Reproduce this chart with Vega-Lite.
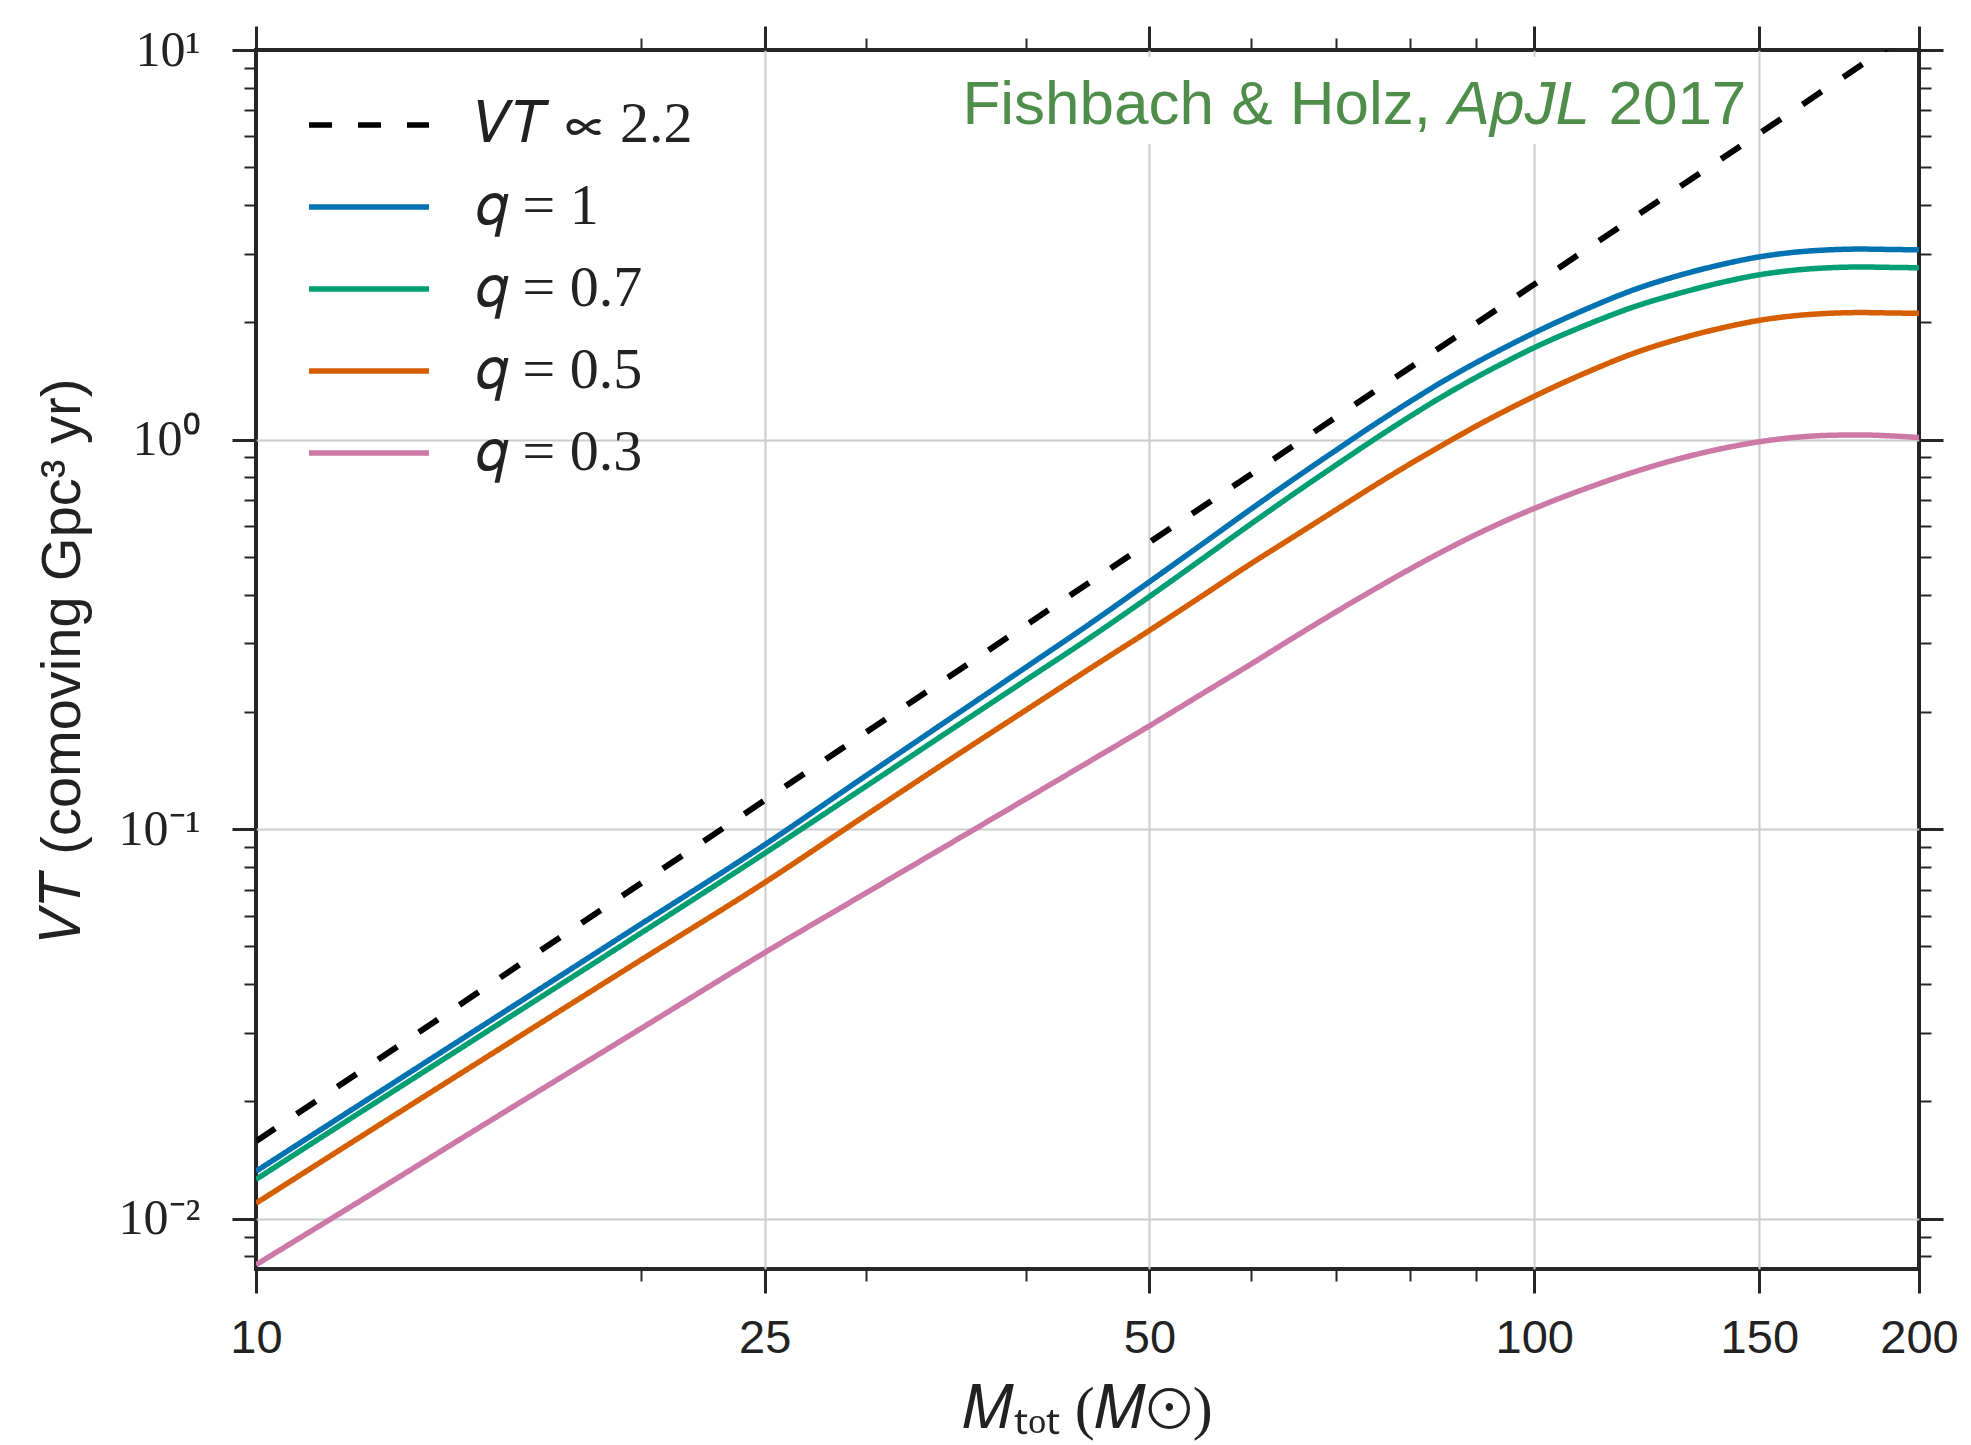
{
  "$schema": "https://vega.github.io/schema/vega-lite/v6.json",
  "width": 1663,
  "height": 1219,
  "autosize": {"type": "none"},
  "padding": {"left": 256, "top": 50, "right": 52, "bottom": 176},
  "background": "white",
  "config": {
    "view": {"stroke": "#262626", "strokeWidth": 4, "fill": "white"},
    "axis": {"domain": false, "labelOverlap": false, "labelFlush": false, "tickColor": "#262626", "labelColor": "#222222", "titleColor": "#222222", "titleFontWeight": "normal", "gridColor": "#cccccc", "gridWidth": 2}
  },
  "datasets": {
    "curves": [
      {"series": "d", "M": 10, "VT": 0.0158},
      {"series": "d", "M": 200, "VT": 11.5},
      {"series": "q1", "M": 10, "VT": 0.01324}, {"series": "q1", "M": 12, "VT": 0.01945}, {"series": "q1", "M": 15, "VT": 0.03112}, {"series": "q1", "M": 20, "VT": 0.05702}, {"series": "q1", "M": 25, "VT": 0.0912}, {"series": "q1", "M": 30, "VT": 0.1371}, {"series": "q1", "M": 35, "VT": 0.1932}, {"series": "q1", "M": 40, "VT": 0.26}, {"series": "q1", "M": 45, "VT": 0.3381}, {"series": "q1", "M": 50, "VT": 0.4315}, {"series": "q1", "M": 55, "VT": 0.5395}, {"series": "q1", "M": 60, "VT": 0.6622}, {"series": "q1", "M": 65, "VT": 0.7962}, {"series": "q1", "M": 70, "VT": 0.9397}, {"series": "q1", "M": 75, "VT": 1.094}, {"series": "q1", "M": 80, "VT": 1.2531}, {"series": "q1", "M": 85, "VT": 1.4158}, {"series": "q1", "M": 90, "VT": 1.574}, {"series": "q1", "M": 95, "VT": 1.7278}, {"series": "q1", "M": 100, "VT": 1.8793}, {"series": "q1", "M": 110, "VT": 2.1677}, {"series": "q1", "M": 120, "VT": 2.4322}, {"series": "q1", "M": 130, "VT": 2.6424}, {"series": "q1", "M": 140, "VT": 2.8119}, {"series": "q1", "M": 150, "VT": 2.9444}, {"series": "q1", "M": 160, "VT": 3.0269}, {"series": "q1", "M": 170, "VT": 3.069}, {"series": "q1", "M": 180, "VT": 3.0832}, {"series": "q1", "M": 190, "VT": 3.0761}, {"series": "q1", "M": 200, "VT": 3.069},
      {"series": "q07", "M": 10, "VT": 0.01262}, {"series": "q07", "M": 12, "VT": 0.01854}, {"series": "q07", "M": 15, "VT": 0.02958}, {"series": "q07", "M": 20, "VT": 0.05408}, {"series": "q07", "M": 25, "VT": 0.0867}, {"series": "q07", "M": 30, "VT": 0.1288}, {"series": "q07", "M": 35, "VT": 0.1803}, {"series": "q07", "M": 40, "VT": 0.241}, {"series": "q07", "M": 45, "VT": 0.3112}, {"series": "q07", "M": 50, "VT": 0.3954}, {"series": "q07", "M": 55, "VT": 0.4943}, {"series": "q07", "M": 60, "VT": 0.6067}, {"series": "q07", "M": 65, "VT": 0.7295}, {"series": "q07", "M": 70, "VT": 0.861}, {"series": "q07", "M": 75, "VT": 1.002}, {"series": "q07", "M": 80, "VT": 1.1482}, {"series": "q07", "M": 85, "VT": 1.2972}, {"series": "q07", "M": 90, "VT": 1.4421}, {"series": "q07", "M": 95, "VT": 1.5831}, {"series": "q07", "M": 100, "VT": 1.7219}, {"series": "q07", "M": 110, "VT": 1.9724}, {"series": "q07", "M": 120, "VT": 2.1979}, {"series": "q07", "M": 130, "VT": 2.3768}, {"series": "q07", "M": 140, "VT": 2.5293}, {"series": "q07", "M": 150, "VT": 2.6485}, {"series": "q07", "M": 160, "VT": 2.7227}, {"series": "q07", "M": 170, "VT": 2.7606}, {"series": "q07", "M": 180, "VT": 2.7733}, {"series": "q07", "M": 190, "VT": 2.7669}, {"series": "q07", "M": 200, "VT": 2.7606},
      {"series": "q05", "M": 10, "VT": 0.01096}, {"series": "q05", "M": 12, "VT": 0.01603}, {"series": "q05", "M": 15, "VT": 0.02547}, {"series": "q05", "M": 20, "VT": 0.04613}, {"series": "q05", "M": 25, "VT": 0.07295}, {"series": "q05", "M": 30, "VT": 0.1086}, {"series": "q05", "M": 35, "VT": 0.1517}, {"series": "q05", "M": 40, "VT": 0.2018}, {"series": "q05", "M": 45, "VT": 0.2594}, {"series": "q05", "M": 50, "VT": 0.3236}, {"series": "q05", "M": 55, "VT": 0.3972}, {"series": "q05", "M": 60, "VT": 0.4797}, {"series": "q05", "M": 65, "VT": 0.5662}, {"series": "q05", "M": 70, "VT": 0.6607}, {"series": "q05", "M": 75, "VT": 0.7621}, {"series": "q05", "M": 80, "VT": 0.867}, {"series": "q05", "M": 85, "VT": 0.9727}, {"series": "q05", "M": 90, "VT": 1.0814}, {"series": "q05", "M": 95, "VT": 1.1872}, {"series": "q05", "M": 100, "VT": 1.2912}, {"series": "q05", "M": 110, "VT": 1.4894}, {"series": "q05", "M": 120, "VT": 1.6711}, {"series": "q05", "M": 130, "VT": 1.8155}, {"series": "q05", "M": 140, "VT": 1.932}, {"series": "q05", "M": 150, "VT": 2.023}, {"series": "q05", "M": 160, "VT": 2.0797}, {"series": "q05", "M": 170, "VT": 2.1086}, {"series": "q05", "M": 180, "VT": 2.1184}, {"series": "q05", "M": 190, "VT": 2.1135}, {"series": "q05", "M": 200, "VT": 2.1086},
      {"series": "q03", "M": 10, "VT": 0.007621}, {"series": "q03", "M": 12, "VT": 0.01099}, {"series": "q03", "M": 15, "VT": 0.01726}, {"series": "q03", "M": 20, "VT": 0.03076}, {"series": "q03", "M": 25, "VT": 0.04819}, {"series": "q03", "M": 30, "VT": 0.06855}, {"series": "q03", "M": 35, "VT": 0.09226}, {"series": "q03", "M": 40, "VT": 0.1194}, {"series": "q03", "M": 45, "VT": 0.15}, {"series": "q03", "M": 50, "VT": 0.1841}, {"series": "q03", "M": 55, "VT": 0.2228}, {"series": "q03", "M": 60, "VT": 0.2649}, {"series": "q03", "M": 65, "VT": 0.3119}, {"series": "q03", "M": 70, "VT": 0.3615}, {"series": "q03", "M": 75, "VT": 0.4131}, {"series": "q03", "M": 80, "VT": 0.4657}, {"series": "q03", "M": 85, "VT": 0.5184}, {"series": "q03", "M": 90, "VT": 0.57}, {"series": "q03", "M": 95, "VT": 0.6192}, {"series": "q03", "M": 100, "VT": 0.6655}, {"series": "q03", "M": 110, "VT": 0.751}, {"series": "q03", "M": 120, "VT": 0.8279}, {"series": "q03", "M": 130, "VT": 0.894}, {"series": "q03", "M": 140, "VT": 0.9471}, {"series": "q03", "M": 150, "VT": 0.9872}, {"series": "q03", "M": 160, "VT": 1.013}, {"series": "q03", "M": 170, "VT": 1.0254}, {"series": "q03", "M": 180, "VT": 1.0278}, {"series": "q03", "M": 190, "VT": 1.0221}, {"series": "q03", "M": 200, "VT": 1.0118}
    ],
    "box": [{"M1": 34.9, "M2": 147.9, "VT1": 5.75, "VT2": 9.61}],
    "note": [
      {"text": "Fishbach & Holz,", "M": 35.7, "VT": 6.47},
      {"text": "ApJL", "M": 85.7, "VT": 6.47},
      {"text": "2017", "M": 114.3, "VT": 6.47}
    ]
  },
  "resolve": {"axis": {"x": "independent", "y": "independent"}},
  "layer": [
    {
      "data": {"name": "box"},
      "mark": {"type": "rect", "fill": "white"},
      "encoding": {
        "x": {"field": "M1", "type": "quantitative", "scale": {"type": "log", "domain": [10, 200], "nice": false}, "axis": null},
        "x2": {"field": "M2"},
        "y": {"field": "VT1", "type": "quantitative", "scale": {"type": "log", "domain": [0.00743, 10], "nice": false}, "axis": null},
        "y2": {"field": "VT2"}
      }
    },
    {
      "data": {"name": "note"},
      "transform": [{"filter": "datum.text != 'ApJL'"}],
      "mark": {"type": "text", "align": "left", "baseline": "alphabetic", "font": "Liberation Sans", "fontSize": 62, "color": "#4f8d4a"},
      "encoding": {
        "x": {"field": "M", "type": "quantitative", "scale": {"type": "log", "domain": [10, 200], "nice": false}, "axis": null},
        "y": {"field": "VT", "type": "quantitative", "scale": {"type": "log", "domain": [0.00743, 10], "nice": false}, "axis": null},
        "text": {"field": "text"}
      }
    },
    {
      "data": {"name": "note"},
      "transform": [{"filter": "datum.text == 'ApJL'"}],
      "mark": {"type": "text", "align": "left", "baseline": "alphabetic", "font": "Liberation Sans", "fontSize": 62, "fontStyle": "italic", "color": "#4f8d4a"},
      "encoding": {
        "x": {"field": "M", "type": "quantitative", "scale": {"type": "log", "domain": [10, 200], "nice": false}, "axis": null},
        "y": {"field": "VT", "type": "quantitative", "scale": {"type": "log", "domain": [0.00743, 10], "nice": false}, "axis": null},
        "text": {"field": "text"}
      }
    },
    {
      "data": {"name": "curves"},
      "transform": [{"filter": "datum.series == 'd'"}],
      "mark": {"type": "line", "clip": true, "strokeWidth": 6},
      "encoding": {
        "x": {"field": "M", "type": "quantitative", "scale": {"type": "log", "domain": [10, 200], "nice": false}, "axis": null},
        "y": {"field": "VT", "type": "quantitative", "scale": {"type": "log", "domain": [0.00743, 10], "nice": false}, "axis": null},
        "color": {"field": "series", "type": "nominal", "scale": {"domain": ["d", "q1", "q07", "q05", "q03"], "range": ["#000000", "#0072B2", "#009E73", "#D55E00", "#CC79A7"]}},
        "strokeDash": {"field": "series", "type": "nominal", "scale": {"domain": ["d", "q1", "q07", "q05", "q03"], "range": [[23, 26], [1, 0], [1, 0], [1, 0], [1, 0]]}}
      }
    },
    {
      "data": {"name": "curves"},
      "transform": [{"filter": "datum.series != 'd'"}],
      "mark": {"type": "line", "clip": true, "strokeWidth": 5.5, "interpolate": "monotone"},
      "encoding": {
        "x": {
          "field": "M", "type": "quantitative",
          "scale": {"type": "log", "domain": [10, 200], "nice": false},
          "axis": {
            "orient": "bottom",
            "values": [10, 20, 25, 30, 40, 50, 60, 70, 80, 90, 100, 150, 200],
            "labelExpr": "indexof([10, 25, 50, 100, 150, 200], datum.value) >= 0 ? datum.label : ''",
            "labelFont": "Liberation Sans", "labelFontSize": 47, "labelPadding": 22,
            "tickSize": {"condition": {"test": "indexof([10, 25, 50, 100, 150, 200], datum.value) >= 0", "value": 24}, "value": 12},
            "tickWidth": {"condition": {"test": "indexof([10, 25, 50, 100, 150, 200], datum.value) >= 0", "value": 3}, "value": 2},
            "grid": true,
            "gridOpacity": {"condition": {"test": "indexof([25, 50, 100, 150], datum.value) >= 0", "value": 1}, "value": 0},
            "title": "𝑀ₜₒₜ (𝑀⊙)", "titleFont": "Liberation Serif", "titleFontSize": 60, "titleY": 158, "titleBaseline": "alphabetic"
          }
        },
        "y": {
          "field": "VT", "type": "quantitative",
          "scale": {"type": "log", "domain": [0.00743, 10], "nice": false},
          "axis": {
            "orient": "left",
            "values": [0.008, 0.009, 0.01, 0.02, 0.03, 0.04, 0.05, 0.06, 0.07, 0.08, 0.09, 0.1, 0.2, 0.3, 0.4, 0.5, 0.6, 0.7, 0.8, 0.9, 1, 2, 3, 4, 5, 6, 7, 8, 9, 10],
            "labelExpr": "datum.value == 10 ? '10¹' : datum.value == 1 ? '10⁰' : datum.value == 0.1 ? '10⁻¹' : datum.value == 0.01 ? '10⁻²' : ''",
            "labelFont": "Liberation Serif", "labelFontSize": 50, "labelPadding": 32,
            "tickSize": {"condition": {"test": "datum.value == 0.01 || datum.value == 0.1 || datum.value == 1 || datum.value == 10", "value": 24}, "value": 12},
            "tickWidth": {"condition": {"test": "datum.value == 0.01 || datum.value == 0.1 || datum.value == 1 || datum.value == 10", "value": 3}, "value": 2},
            "grid": true,
            "gridOpacity": {"condition": {"test": "datum.value == 0.01 || datum.value == 0.1 || datum.value == 1", "value": 1}, "value": 0},
            "title": "𝑉𝑇 (comoving Gpc³ yr)", "titleFont": "Liberation Sans", "titleFontSize": 56, "titleAngle": 270, "titleX": -194, "titleBaseline": "middle"
          }
        },
        "color": {
          "field": "series", "type": "nominal",
          "scale": {"domain": ["d", "q1", "q07", "q05", "q03"], "range": ["#000000", "#0072B2", "#009E73", "#D55E00", "#CC79A7"]},
          "legend": {
            "orient": "none", "legendX": 84, "legendY": 46, "direction": "vertical", "title": null, "padding": 0,
            "symbolType": "M-5,0H5", "symbolSize": 576, "symbolStrokeWidth": 5.5,
            "labelFont": "Liberation Serif", "labelFontSize": 58, "labelColor": "#222222", "labelOffset": 78, "rowPadding": 24,
            "labelLimit": 400,
            "labelExpr": "datum.value == 'd' ? '𝑉𝑇 ∝ 2.2' : datum.value == 'q1' ? '𝑞 = 1' : datum.value == 'q07' ? '𝑞 = 0.7' : datum.value == 'q05' ? '𝑞 = 0.5' : '𝑞 = 0.3'"
          }
        },
        "strokeDash": {"field": "series", "type": "nominal", "scale": {"domain": ["d", "q1", "q07", "q05", "q03"], "range": [[23, 26], [1, 0], [1, 0], [1, 0], [1, 0]]}}
      }
    },
    {
      "data": {"name": "curves"},
      "mark": {"type": "point", "opacity": 0},
      "encoding": {
        "x": {
          "field": "M", "type": "quantitative",
          "scale": {"type": "log", "domain": [10, 200], "nice": false},
          "axis": {
            "orient": "top", "labels": false, "grid": false, "title": null,
            "values": [10, 20, 25, 30, 40, 50, 60, 70, 80, 90, 100, 150, 200],
            "tickSize": {"condition": {"test": "indexof([10, 25, 50, 100, 150, 200], datum.value) >= 0", "value": 24}, "value": 12},
            "tickWidth": {"condition": {"test": "indexof([10, 25, 50, 100, 150, 200], datum.value) >= 0", "value": 3}, "value": 2}
          }
        },
        "y": {
          "field": "VT", "type": "quantitative",
          "scale": {"type": "log", "domain": [0.00743, 10], "nice": false},
          "axis": {
            "orient": "right", "labels": false, "grid": false, "title": null,
            "values": [0.008, 0.009, 0.01, 0.02, 0.03, 0.04, 0.05, 0.06, 0.07, 0.08, 0.09, 0.1, 0.2, 0.3, 0.4, 0.5, 0.6, 0.7, 0.8, 0.9, 1, 2, 3, 4, 5, 6, 7, 8, 9, 10],
            "tickSize": {"condition": {"test": "datum.value == 0.01 || datum.value == 0.1 || datum.value == 1 || datum.value == 10", "value": 24}, "value": 12},
            "tickWidth": {"condition": {"test": "datum.value == 0.01 || datum.value == 0.1 || datum.value == 1 || datum.value == 10", "value": 3}, "value": 2}
          }
        }
      }
    }
  ]
}
